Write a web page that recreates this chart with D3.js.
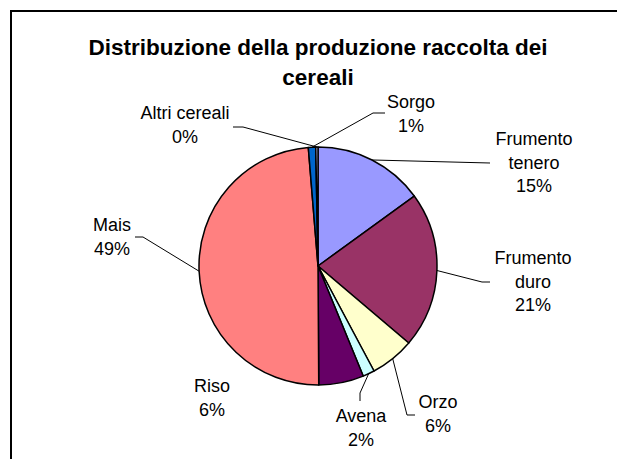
<!DOCTYPE html>
<html>
<head>
  <meta charset="utf-8">
  <script src="https://d3js.org/d3.v7.min.js"></script>
<style>
  body { margin: 0; background: #fff; }
  text { font-family: "Liberation Sans", Arial, sans-serif; fill: #000; }
</style>
</head>
<body>
<script>
  // data (percent of total harvest)
  var categories = ["Frumento tenero", "Frumento duro", "Orzo", "Avena", "Riso", "Mais", "Sorgo", "Altri cereali"];
  var values = [15.0, 21.2, 6.0, 1.6, 6.1, 48.8, 1.0, 0.3];
  var labelLines = [["Frumento", "tenero"], ["Frumento", "duro"], ["Orzo"], ["Avena"], ["Riso"], ["Mais"], ["Sorgo"], ["Altri cereali"]];
  var colors = ["#9999FF", "#993366", "#FFFFCC", "#CCFFFF", "#660066", "#FF8080", "#0066CC", "#CCCCFF"];

  // where the labels were dragged to (first baseline), and the bends of their leader lines
  var labelPos = [
    {x: 534, y: 145, lead: [[490, 163]]},
    {x: 533, y: 264, lead: [[482, 282], [490, 282]]},
    {x: 438, y: 408, lead: [[407, 415], [415, 415]]},
    {x: 361, y: 422, lead: [[360, 393], [360, 401]]},
    {x: 212, y: 392, lead: null},
    {x: 112, y: 231, lead: [[143, 237], [135, 237]]},
    {x: 411, y: 108, lead: [[373, 113], [385, 113]]},
    {x: 185, y: 119, lead: [[243, 127], [233, 127]]}
  ];

  var W = 617, H = 459;
  var cx = 318, cy = 266, r = 119;
  var lineH = 23.5;

  var svg = d3.select("body").append("svg")
      .attr("width", W).attr("height", H);

  // chart frame (runs off the right and bottom of the window)
  svg.append("rect")
      .attr("x", 11).attr("y", 11)
      .attr("width", 700).attr("height", 600)
      .attr("fill", "#fff").attr("stroke", "#000").attr("stroke-width", 2);

  svg.append("text")
      .attr("text-anchor", "middle")
      .style("font-size", "22.5px").style("font-weight", "bold")
      .selectAll("tspan")
      .data(["Distribuzione della produzione raccolta dei", "cereali"])
      .enter().append("tspan")
      .attr("x", 318)
      .attr("y", function (d, i) { return 55 + i * 30; })
      .text(function (d) { return d; });

  var pie = d3.pie().sort(null).value(function (d) { return d; });
  var arcs = pie(values);
  var arc = d3.arc().innerRadius(0).outerRadius(r);

  var g = svg.append("g").attr("transform", "translate(" + cx + "," + cy + ")");
  g.selectAll("path.slice")
      .data(arcs)
      .enter().append("path")
      .attr("class", "slice")
      .attr("d", arc)
      .attr("fill", function (d, i) { return colors[i]; })
      .attr("stroke", "#000")
      .attr("stroke-width", 1.5)
      .attr("stroke-linejoin", "round");

  // leader lines from the slice edge at mid angle
  arcs.forEach(function (d, i) {
    var lp = labelPos[i];
    if (!lp.lead) return;
    var a = (d.startAngle + d.endAngle) / 2;
    var pts = [[cx + r * Math.sin(a), cy - r * Math.cos(a)]].concat(lp.lead);
    svg.append("path")
        .attr("d", d3.line()(pts))
        .attr("fill", "none")
        .attr("stroke", "#000")
        .attr("stroke-width", 1);
  });

  // labels: name lines then rounded percent
  arcs.forEach(function (d, i) {
    var lp = labelPos[i];
    var lines = labelLines[i].concat([Math.round(values[i]) + "%"]);
    var t = svg.append("text")
        .attr("text-anchor", "middle")
        .style("font-size", "18px");
    lines.forEach(function (s, k) {
      t.append("tspan")
          .attr("x", lp.x)
          .attr("y", lp.y + k * lineH)
          .text(s);
    });
  });
</script>
</body>
</html>
